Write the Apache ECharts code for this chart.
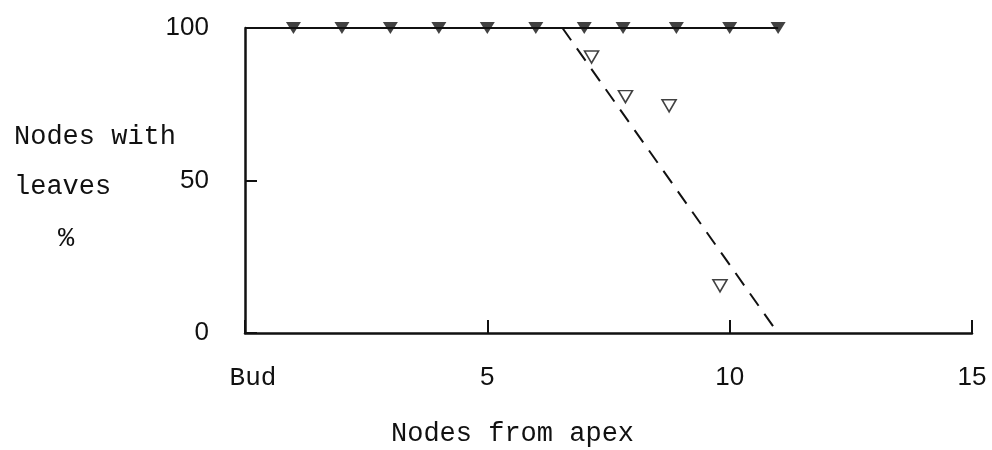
<!DOCTYPE html>
<html>
<head>
<meta charset="utf-8">
<script src="https://cdn.jsdelivr.net/npm/echarts@6/dist/echarts.min.js"></script>
<style>
html,body{margin:0;padding:0;background:#fff;}
#chart{width:992px;height:450px;}
</style>
</head>
<body>
<div id="chart"></div>
<script>
// Data
var xTicks = [0, 5, 10, 15];
var xTickLabels = ['Bud', '5', '10', '15'];
var yTicks = [0, 50, 100];
var yLabelLines = ['Nodes with', 'leaves', '%'];
var xAxisTitle = 'Nodes from apex';

// Filled triangles (solid line at 100%)
var filledX = [1, 2, 3, 4, 5, 6, 7, 7.8, 8.9, 10, 11];
var filledY = [100, 100, 100, 100, 100, 100, 100, 100, 100, 100, 100];
var solidLineX = [0, 11];
var solidLineY = [100, 100];

// Open triangles
var openX = [7.15, 7.85, 8.75, 9.8];
var openY = [90.5, 77.5, 74.5, 15.5];

// Dashed fitted line
var dashX = [6.55, 10.95];
var dashY = [100, 1];

function zip(a, b) { return a.map(function (v, i) { return [v, b[i]]; }); }

var ink = '#111111';
var mono = '"Liberation Mono", "DejaVu Sans Mono", monospace';
var sans = '"Liberation Sans", "DejaVu Sans", sans-serif';

var chart = echarts.init(document.getElementById('chart'), null, {renderer: 'canvas'});
chart.setOption({
  backgroundColor: '#ffffff',
  animation: false,
  grid: {left: 245, right: 20, top: 28, bottom: 117, outerBoundsMode: 'none', containLabel: false},
  xAxis: {
    type: 'value', min: 0, max: 15, interval: 5,
    axisLine: {show: true, lineStyle: {color: ink, width: 2.5}},
    axisTick: {show: true, inside: true, length: 13, lineStyle: {color: ink, width: 2}},
    axisLabel: {
      margin: 32,
      formatter: function (v) {
        var i = xTicks.indexOf(v);
        if (i === 0) return '{m|' + xTickLabels[i] + '}';
        return i >= 0 ? xTickLabels[i] : '';
      },
      fontFamily: sans, fontSize: 26, color: ink,
      rich: {m: {fontFamily: mono, fontSize: 26, color: ink, padding: [0, 0, 0, 16]}}
    },
    splitLine: {show: false}
  },
  yAxis: {
    type: 'value', min: 0, max: 100, interval: 50,
    axisLine: {show: true, lineStyle: {color: ink, width: 2.5}},
    axisTick: {show: true, inside: true, length: 12, lineStyle: {color: ink, width: 2}},
    axisLabel: {margin: 36, fontFamily: sans, fontSize: 26, color: ink},
    splitLine: {show: false}
  },
  graphic: [
    {type: 'text', left: 14, top: 123, style: {text: yLabelLines[0], font: '27px ' + mono, fill: ink}},
    {type: 'text', left: 14, top: 173, style: {text: yLabelLines[1], font: '27px ' + mono, fill: ink}},
    {type: 'text', left: 58, top: 225, style: {text: yLabelLines[2], font: '27px ' + mono, fill: ink}},
    {type: 'text', left: 391, top: 420, style: {text: xAxisTitle, font: '27px ' + mono, fill: ink}}
  ],
  series: [
    {
      type: 'line', data: zip(solidLineX, solidLineY), symbol: 'none',
      lineStyle: {color: ink, width: 2}, z: 2
    },
    {
      type: 'line', data: zip(dashX, dashY), symbol: 'none',
      lineStyle: {color: ink, width: 2, type: [15, 10]}, z: 2
    },
    {
      type: 'scatter', data: zip(filledX, filledY),
      symbol: 'triangle', symbolRotate: 180, symbolSize: [15, 12],
      itemStyle: {color: ink}, z: 3
    },
    {
      type: 'scatter', data: zip(openX, openY),
      symbol: 'triangle', symbolRotate: 180, symbolSize: [14, 12],
      itemStyle: {color: '#fff', borderColor: ink, borderWidth: 1.6}, z: 3
    }
  ]
});
</script>
</body>
</html>
